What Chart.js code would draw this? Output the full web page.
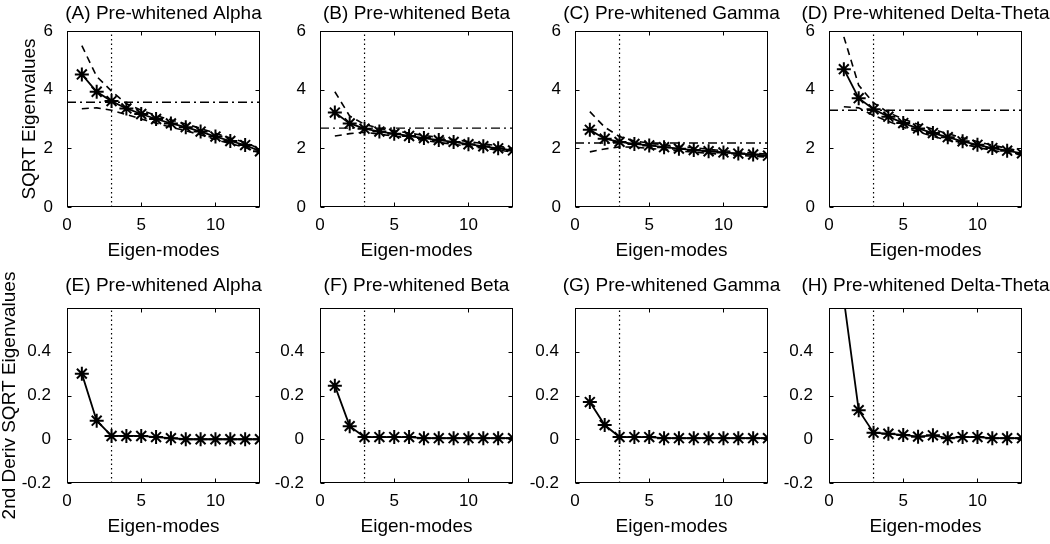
<!DOCTYPE html>
<html>
<head>
<meta charset="utf-8">
<script src="https://cdn.jsdelivr.net/npm/chart.js@4.4.0/dist/chart.umd.min.js"></script>
<style>
  body { margin: 0; background: #fff; }
  #fig { position: relative; width: 1050px; height: 544px; overflow: hidden; }
  #fig canvas { position: absolute; }
</style>
</head>
<body>
<div id="fig"></div>
<script>
// ---- data ----
const modes = [1, 2, 3, 4, 5, 6, 7, 8, 9, 10, 11, 12, 13];
const xTicks = [0, 5, 10];
const eigTicks = [0, 2, 4, 6];
const derivTicks = [-0.2, 0, 0.2, 0.4];
const cutoff = 3;

const alphaEig   = [4.52, 3.93, 3.61, 3.36, 3.17, 3.00, 2.85, 2.72, 2.57, 2.40, 2.25, 2.11, 1.90];
const alphaUpper = [5.50, 4.45, 3.95, 3.52, 3.30, 3.12, 2.97, 2.83, 2.68, 2.51, 2.35, 2.20, 1.98];
const alphaLower = [3.35, 3.38, 3.30, 3.15, 3.00, 2.86, 2.72, 2.60, 2.46, 2.30, 2.16, 2.03, 1.84];
const alphaThresh = 3.57;

const betaEig   = [3.22, 2.85, 2.67, 2.57, 2.50, 2.42, 2.35, 2.28, 2.22, 2.14, 2.07, 2.00, 1.93];
const betaUpper = [3.93, 3.10, 2.82, 2.68, 2.60, 2.52, 2.44, 2.37, 2.30, 2.23, 2.16, 2.08, 2.00];
const betaLower = [2.42, 2.50, 2.55, 2.48, 2.42, 2.34, 2.27, 2.20, 2.14, 2.07, 2.00, 1.94, 1.87];
const betaThresh = 2.69;

const gammaEig   = [2.63, 2.33, 2.22, 2.15, 2.10, 2.04, 1.99, 1.94, 1.90, 1.86, 1.82, 1.79, 1.75];
const gammaUpper = [3.25, 2.72, 2.40, 2.25, 2.18, 2.12, 2.07, 2.02, 1.97, 1.92, 1.88, 1.84, 1.80];
const gammaLower = [1.88, 1.98, 2.05, 2.04, 2.00, 1.95, 1.91, 1.87, 1.83, 1.79, 1.76, 1.73, 1.70];
const gammaThresh = 2.18;

const deltaEig   = [4.70, 3.71, 3.33, 3.08, 2.86, 2.68, 2.52, 2.38, 2.24, 2.12, 2.01, 1.92, 1.83];
const deltaUpper = [5.80, 4.15, 3.55, 3.22, 3.00, 2.82, 2.65, 2.50, 2.36, 2.23, 2.11, 2.00, 1.90];
const deltaLower = [3.42, 3.38, 3.12, 2.92, 2.72, 2.56, 2.41, 2.28, 2.15, 2.03, 1.93, 1.85, 1.77];
const deltaThresh = 3.30;

const alphaDeriv = [0.300, 0.085, 0.015, 0.015, 0.015, 0.010, 0.005, 0.000, 0.000, 0.000, 0.000, 0.000, 0.000];
const betaDeriv  = [0.245, 0.060, 0.010, 0.010, 0.010, 0.010, 0.005, 0.005, 0.005, 0.005, 0.005, 0.005, 0.005];
const gammaDeriv = [0.170, 0.065, 0.010, 0.010, 0.010, 0.005, 0.005, 0.005, 0.005, 0.005, 0.005, 0.005, 0.005];
const deltaDeriv = [0.640, 0.133, 0.030, 0.025, 0.020, 0.012, 0.018, 0.005, 0.010, 0.010, 0.005, 0.005, 0.005];

// ---- layout ----
const plotLefts = [67, 320, 575, 829];
const plotW = 193;
const axisW = 67;
const FONT = "'Liberation Sans', Arial, Helvetica, sans-serif";

Chart.defaults.font.family = FONT;
Chart.defaults.color = '#000';

const pts = (ys) => modes.map((m, i) => ({ x: m, y: ys[i] }));

// box with inward tick marks, drawn like the original axes
const framePlugin = {
    id: 'frame',
    afterDraw(chart) {
        const { ctx, chartArea: a, scales } = chart;
        ctx.save();
        ctx.strokeStyle = '#000';
        ctx.lineWidth = 1;
        ctx.setLineDash([]);
        const L = Math.round(a.left) + 0.5, R = Math.round(a.right) - 0.5;
        const T = Math.round(a.top) + 0.5, B = Math.round(a.bottom) - 0.5;
        ctx.strokeRect(L, T, R - L, B - T);
        ctx.beginPath();
        scales.x.ticks.forEach(t => {
            const px = Math.round(scales.x.getPixelForValue(t.value)) + 0.5;
            ctx.moveTo(px, B); ctx.lineTo(px, B - 4);
            ctx.moveTo(px, T); ctx.lineTo(px, T + 4);
        });
        scales.y.ticks.forEach(t => {
            const py = Math.round(scales.y.getPixelForValue(t.value)) + 0.5;
            ctx.moveTo(L, py); ctx.lineTo(L + 4, py);
            ctx.moveTo(R, py); ctx.lineTo(R - 4, py);
        });
        ctx.stroke();
        ctx.restore();
    }
};

function makePanel(p) {
    const top = p.row === 0;
    const titlePad = top ? { top: 2, bottom: 6.2 } : { top: 2, bottom: 11.2 };
    const canvasTop = top ? 0 : 272;
    const canvasH = top ? 263 : 267;
    // symmetric canvas (empty right axis) so the title centres over the plot box
    const canvasW = axisW + plotW + axisW;

    const canvas = document.createElement('canvas');
    canvas.width = canvasW;
    canvas.height = canvasH;
    canvas.style.left = (plotLefts[p.col] - axisW) + 'px';
    canvas.style.top = canvasTop + 'px';
    canvas.style.width = canvasW + 'px';
    canvas.style.height = canvasH + 'px';
    document.getElementById('fig').appendChild(canvas);

    const yMin = top ? 0 : -0.2;
    const yMax = top ? 6 : 0.6;
    const yTickList = top ? eigTicks : derivTicks;

    const datasets = [];
    if (top) {
        datasets.push({
            data: pts(p.upper), borderColor: '#000', borderWidth: 1.6,
            borderDash: [7, 5], pointRadius: 0
        });
        datasets.push({
            data: pts(p.lower), borderColor: '#000', borderWidth: 1.6,
            borderDash: [7, 5], pointRadius: 0
        });
        datasets.push({
            data: [{ x: 0, y: p.thresh }, { x: 13, y: p.thresh }],
            borderColor: '#000', borderWidth: 1.4,
            borderDash: [9, 4, 2, 4], pointRadius: 0
        });
    }
    datasets.push({
        data: [{ x: cutoff, y: yMin }, { x: cutoff, y: yMax }],
        borderColor: '#000', borderWidth: 1.2,
        borderDash: [1.5, 3], pointRadius: 0
    });
    datasets.push({
        data: pts(p.values), borderColor: '#000', borderWidth: 1.8,
        pointStyle: 'star', pointRadius: 7, pointBorderWidth: 2,
        pointBorderColor: '#000', pointBackgroundColor: '#000'
    });

    new Chart(canvas, {
        type: 'line',
        data: { datasets },
        options: {
            responsive: false,
            animation: false,
            devicePixelRatio: 1,
            layout: { padding: 0 },
            plugins: {
                legend: { display: false },
                tooltip: { enabled: false },
                title: {
                    display: true, text: p.title, color: '#000',
                    font: { size: 19, weight: 'normal', lineHeight: 1.2 },
                    padding: titlePad
                }
            },
            scales: {
                x: {
                    type: 'linear', min: 0, max: 13,
                    grid: { display: false, drawTicks: false }, border: { display: false },
                    afterBuildTicks: s => { s.ticks = xTicks.map(v => ({ value: v })); },
                    afterFit: s => { s.height = 56; },
                    ticks: { padding: 8, font: { size: 17 }, color: '#000', maxRotation: 0 },
                    title: {
                        display: true, text: 'Eigen-modes', color: '#000',
                        font: { size: 19 }, padding: { top: 0, bottom: 1 }
                    }
                },
                y: {
                    type: 'linear', min: yMin, max: yMax,
                    grid: { display: false, drawTicks: false }, border: { display: false },
                    afterBuildTicks: s => { s.ticks = yTickList.map(v => ({ value: v })); },
                    afterFit: s => { s.width = axisW; },
                    ticks: {
                        padding: top ? 14 : 16, font: { size: 17 }, color: '#000',
                        callback: v => String(Math.round(v * 10) / 10)
                    },
                    title: {
                        display: !!p.yTitle, text: p.yTitle || '', color: '#000',
                        font: { size: 19 },
                        padding: top ? { top: 18, bottom: 0 } : { top: -2, bottom: 0 }
                    }
                },
                yr: {
                    type: 'linear', position: 'right', min: yMin, max: yMax,
                    grid: { display: false, drawTicks: false }, border: { display: false },
                    ticks: { display: false },
                    afterFit: s => { s.width = axisW; }
                }
            }
        },
        plugins: [framePlugin]
    });
}

const panels = [
    { row: 0, col: 0, title: '(A) Pre-whitened Alpha', values: alphaEig, upper: alphaUpper, lower: alphaLower, thresh: alphaThresh, yTitle: 'SQRT Eigenvalues' },
    { row: 0, col: 1, title: '(B) Pre-whitened Beta', values: betaEig, upper: betaUpper, lower: betaLower, thresh: betaThresh },
    { row: 0, col: 2, title: '(C) Pre-whitened Gamma', values: gammaEig, upper: gammaUpper, lower: gammaLower, thresh: gammaThresh },
    { row: 0, col: 3, title: '(D) Pre-whitened Delta-Theta', values: deltaEig, upper: deltaUpper, lower: deltaLower, thresh: deltaThresh },
    { row: 1, col: 0, title: '(E) Pre-whitened Alpha', values: alphaDeriv, yTitle: '2nd Deriv SQRT Eigenvalues' },
    { row: 1, col: 1, title: '(F) Pre-whitened Beta', values: betaDeriv },
    { row: 1, col: 2, title: '(G) Pre-whitened Gamma', values: gammaDeriv },
    { row: 1, col: 3, title: '(H) Pre-whitened Delta-Theta', values: deltaDeriv }
];

panels.forEach(makePanel);
</script>
</body>
</html>
